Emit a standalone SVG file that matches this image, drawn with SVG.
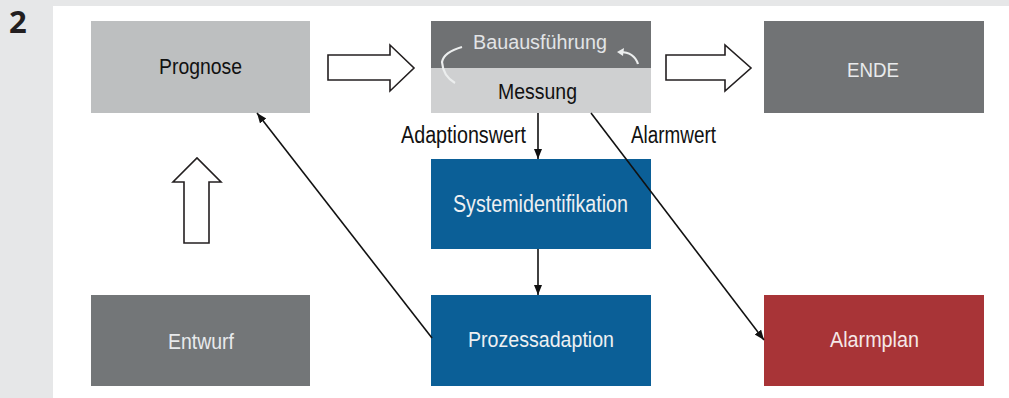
<svg xmlns="http://www.w3.org/2000/svg" width="1009" height="398" viewBox="0 0 1009 398">
<defs>
<style>
.t{font-family:"Liberation Sans",Arial,sans-serif;font-size:22px;text-anchor:middle}
.dk{fill:#111}
.lt{fill:#eef0f2}
.conn{stroke:#111;stroke-width:1.6;fill:none}
.hollow{fill:#fff;stroke:#231f20;stroke-width:1.6;stroke-linejoin:miter}
</style>
<marker id="ah" markerUnits="userSpaceOnUse" markerWidth="11" markerHeight="9" refX="10" refY="4" orient="auto">
<path d="M0,0 L10,4 L0,8 z" fill="#111"/>
</marker>
</defs>
<rect x="0" y="0" width="1009" height="398" fill="#e6e7e8"/>
<rect x="53" y="6" width="956" height="392" fill="#ffffff"/>
<text x="9" y="33" style="font-family:'Open Sans','Liberation Sans',sans-serif;font-size:31px;font-weight:bold" fill="#231f20">2</text>

<g id="arrows-hollow">
<polygon class="hollow" points="328,55 390,55 390,45 414,68 390,91 390,80 328,80"/>
<polygon class="hollow" points="666,55 725,55 725,45 751,68 725,91 725,80 666,80"/>
<polygon class="hollow" points="184,243 184,182 173,182 197,158 221,182 209,182 209,243"/>
</g>

<g id="prognose">
<rect x="91" y="21" width="219" height="92" fill="#bdbfc0"/>
<text class="t dk" x="200.5" y="74" textLength="83" lengthAdjust="spacingAndGlyphs">Prognose</text>
</g>

<g id="bauausfuehrung">
<rect x="431" y="21" width="220" height="47" fill="#6f7173"/>
<rect x="431" y="68" width="220" height="45" fill="#cfd0d1"/>
<text class="t" x="540" y="49" style="font-size:20px" fill="#e2e4e6" textLength="134" lengthAdjust="spacingAndGlyphs">Bauausführung</text>
<path d="M462,47 Q444,52 442,62 Q443,76 455,83" fill="none" stroke="#eceeee" stroke-width="2.2"/>
<path d="M620,52 Q634,52 638,64" fill="none" stroke="#eceeee" stroke-width="2.2"/>
<path d="M617,52 L624,48 L623,56 z" fill="#eceeee"/>
<text class="t dk" x="537.5" y="99" textLength="79" lengthAdjust="spacingAndGlyphs">Messung</text>
</g>

<g id="ende">
<rect x="764" y="21" width="220" height="92" fill="#717375"/>
<text class="t" x="873" y="77" style="font-size:20px" fill="#e8eaec" textLength="52" lengthAdjust="spacingAndGlyphs">ENDE</text>
</g>

<g id="systemidentifikation">
<rect x="431" y="159" width="220" height="90" fill="#0b5f97"/>
<text class="t lt" x="540.5" y="212" style="font-size:23px" textLength="175" lengthAdjust="spacingAndGlyphs">Systemidentifikation</text>
</g>

<g id="entwurf">
<rect x="91" y="295" width="219" height="91" fill="#737678"/>
<text class="t" x="201" y="349" fill="#e8eaec" textLength="66" lengthAdjust="spacingAndGlyphs">Entwurf</text>
</g>

<g id="prozessadaption">
<rect x="431" y="295" width="220" height="91" fill="#0b5f97"/>
<text class="t lt" x="541" y="347" textLength="146" lengthAdjust="spacingAndGlyphs">Prozessadaption</text>
</g>

<g id="alarmplan">
<rect x="764" y="295" width="220" height="91" fill="#a83437"/>
<text class="t" x="874.5" y="347" fill="#f5e8e8" textLength="89" lengthAdjust="spacingAndGlyphs">Alarmplan</text>
</g>

<g id="connectors">
<line class="conn" x1="538" y1="113" x2="538" y2="159" marker-end="url(#ah)"/>
<line class="conn" x1="538" y1="249" x2="538" y2="295" marker-end="url(#ah)"/>
<line class="conn" x1="591" y1="113" x2="764" y2="340" marker-end="url(#ah)"/>
<line class="conn" x1="432" y1="338" x2="257" y2="113" marker-end="url(#ah)"/>
<text class="t dk" x="463.5" y="143" style="font-size:23px" textLength="125" lengthAdjust="spacingAndGlyphs">Adaptionswert</text>
<text class="t dk" x="673.5" y="143" style="font-size:23px" textLength="85" lengthAdjust="spacingAndGlyphs">Alarmwert</text>
</g>
</svg>
